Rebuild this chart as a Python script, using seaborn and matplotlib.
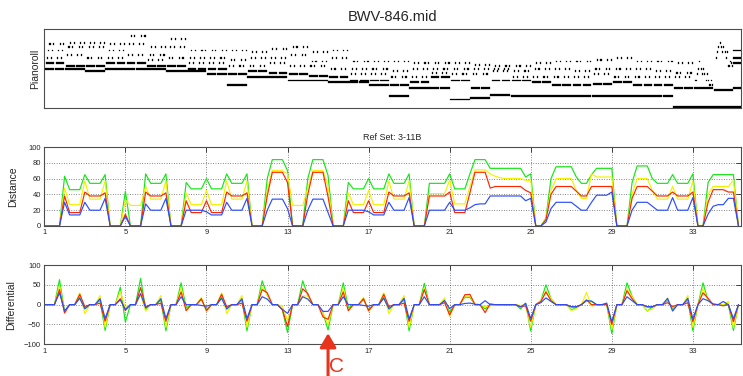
import numpy as np
import pandas as pd
import matplotlib
matplotlib.use("Agg")
import matplotlib.pyplot as plt
import seaborn as sns
from matplotlib.patches import Rectangle
from matplotlib.collections import PatchCollection

sns.set_style("white")
plt.rcParams["font.family"] = ["Liberation Sans", "DejaVu Sans"]

# ---------------- data ----------------
TITLE = "BWV-846.mid"
REF_SET = "Ref Set: 3-11B"
X_TICKS = [1, 5, 9, 13, 17, 21, 25, 29, 33]
STEP = 0.25  # sampling step (bars)

# Pianoroll (MIDI pitches), bars 1..32: bass, tenor, and 3-note arpeggio
BASS = [60, 60, 59, 60, 60, 60, 59, 59, 57, 50, 55, 55, 53, 53, 52, 52,
        50, 43, 48, 48, 41, 42, 44, 43, 43, 43, 43, 43, 43, 43, 43, 36]
TENOR = [64, 62, 62, 64, 64, 62, 62, 60, 60, 57, 59, 58, 57, 56, 55, 53,
         53, 50, 52, 55, 53, 48, 53, 53, 52, 50, 50, 51, 52, 50, 50, 48]
ARP_LOW = [67, 69, 67, 67, 69, 66, 67, 64, 64, 62, 62, 64, 62, 62, 60, 57,
           57, 55, 55, 58, 57, 57, 59, 55, 55, 55, 55, 57, 55, 55, 55, 55]
ARP_MID = [72, 74, 74, 72, 76, 69, 74, 67, 67, 66, 67, 67, 69, 65, 67, 60,
           60, 59, 60, 60, 60, 60, 60, 59, 60, 60, 59, 60, 60, 60, 59, 58]
ARP_TOP = [76, 77, 77, 76, 81, 74, 79, 72, 72, 72, 71, 73, 74, 71, 72, 65,
           65, 65, 64, 64, 64, 63, 62, 62, 64, 65, 65, 66, 67, 65, 65, 64]
# bars 33-34 (pedal + run) and final chord (bar 35)
END_BASS = [36, 36]
END_TENOR = [48, 47]
RUN_33 = [53, 57, 60, 65, 60, 57, 60, 57, 53, 57, 53, 50, 53, 50]
RUN_34 = [67, 71, 74, 77, 74, 71, 74, 71, 67, 71, 62, 65, 64, 62]
FINAL_CHORD = [36, 48, 64, 67, 72]

# Distance series (Ref Set 3-11B), sampled every quarter bar from bar 1
GREEN_DIST = [0, 0, 0, 0, 63, 46, 46, 46, 65, 54, 54, 54, 65, 0, 0, 0,
              44, 0, 0, 0, 66, 54, 54, 54, 66, 0, 0, 0, 55, 47, 47, 47,
              60, 47, 47, 47, 66, 54, 54, 54, 66, 0, 0, 0, 60, 84, 84, 84,
              70, 0, 0, 0, 60, 84, 84, 84, 64, 0, 0, 0, 55, 47, 47, 47,
              60, 47, 47, 47, 66, 54, 54, 54, 66, 0, 0, 0, 54, 54, 54, 54,
              66, 47, 47, 47, 66, 84, 84, 84, 73, 73, 73, 73, 73, 73, 73, 62,
              66, 0, 0, 10, 60, 75, 75, 75, 75, 62, 54, 54, 65, 73, 73, 73,
              73, 0, 0, 0, 55, 76, 76, 76, 60, 54, 54, 54, 65, 54, 54, 54,
              66, 0, 0, 55, 65, 65, 65, 65, 65, 0]
YELLOW_DIST = [0, 0, 0, 0, 48, 27, 27, 27, 57, 34, 34, 34, 57, 0, 0, 0,
               33, 26, 26, 26, 50, 34, 34, 34, 57, 0, 0, 0, 42, 27, 27, 27,
               45, 27, 27, 27, 57, 34, 34, 34, 57, 0, 0, 0, 45, 70, 70, 70,
               66, 26, 26, 26, 48, 70, 70, 70, 50, 0, 0, 0, 42, 27, 27, 27,
               45, 27, 27, 27, 57, 34, 34, 34, 57, 0, 0, 0, 41, 41, 41, 41,
               58, 28, 28, 28, 50, 71, 71, 71, 66, 63, 61, 60, 60, 60, 60, 58,
               57, 0, 0, 10, 45, 60, 60, 60, 60, 45, 35, 35, 66, 62, 62, 62,
               62, 0, 0, 0, 40, 60, 60, 60, 45, 34, 34, 34, 50, 34, 34, 34,
               57, 0, 0, 40, 50, 50, 50, 50, 58, 0]
RED_DIST = [0, 0, 0, 0, 38, 17, 17, 17, 43, 38, 38, 38, 42, 0, 0, 0,
            15, 0, 0, 0, 43, 38, 38, 38, 42, 0, 0, 0, 32, 17, 17, 17,
            32, 17, 17, 17, 43, 38, 38, 38, 42, 0, 0, 0, 38, 68, 68, 68,
            55, 0, 0, 0, 40, 68, 68, 68, 37, 0, 0, 0, 32, 17, 17, 17,
            32, 17, 17, 17, 43, 38, 38, 38, 42, 0, 0, 0, 38, 38, 38, 38,
            43, 17, 17, 17, 42, 68, 68, 68, 48, 50, 50, 50, 50, 50, 50, 45,
            42, 0, 0, 8, 40, 50, 50, 50, 50, 44, 38, 38, 50, 50, 50, 50,
            50, 0, 0, 0, 35, 50, 50, 50, 44, 38, 38, 38, 43, 38, 38, 38,
            43, 0, 0, 30, 46, 46, 46, 43, 43, 0]
BLUE_DIST = [0, 0, 0, 0, 30, 14, 14, 14, 30, 20, 20, 20, 35, 0, 0, 0,
             12, 0, 0, 0, 28, 20, 20, 20, 35, 0, 0, 0, 20, 20, 20, 20,
             18, 14, 14, 14, 30, 20, 20, 20, 35, 0, 0, 0, 20, 34, 34, 34,
             22, 0, 0, 0, 20, 34, 34, 34, 17, 0, 0, 0, 20, 20, 20, 20,
             18, 14, 14, 14, 30, 20, 20, 20, 36, 0, 0, 0, 20, 20, 20, 20,
             30, 20, 20, 20, 23, 27, 28, 28, 38, 38, 38, 38, 38, 38, 38, 32,
             35, 0, 0, 5, 22, 30, 30, 30, 30, 25, 20, 20, 30, 39, 39, 39,
             43, 0, 0, 0, 20, 30, 30, 30, 25, 20, 20, 20, 36, 20, 20, 20,
             36, 0, 0, 15, 25, 27, 27, 35, 35, 0]

# Differential series (change to the next sample)
GREEN_DIFF = [0, 0, 0, 63, -17, 0, 0, 19, -11, 0, 0, 11, -65, 0, 0, 44,
              -44, 0, 0, 66, -12, 0, 0, 12, -66, 0, 0, 55, -8, 0, 0, 13,
              -13, 0, 0, 19, -12, 0, 0, 12, -66, 0, 0, 60, 24, 0, 0, -14,
              -70, 0, 0, 60, 24, 0, 0, -20, -64, 0, 0, 55, -8, 0, 0, 13,
              -13, 0, 0, 19, -12, 0, 0, 12, -66, 0, 0, 54, 0, 0, 0, 12,
              -19, 0, 0, 19, 18, 0, 0, -11, 0, 0, 0, 0, 0, 0, -11, 4,
              -66, 0, 10, 50, 15, 0, 0, 0, -13, -8, 0, 11, 8, 0, 0, 0,
              -73, 0, 0, 55, 21, 0, 0, -16, -6, 0, 0, 11, -11, 0, 0, 12,
              -66, 0, 55, 10, 0, 0, 0, 0, -65, 0]
YELLOW_DIFF = [0, 0, 0, 48, -21, 0, 0, 30, -23, 0, 0, 23, -57, 0, 0, 33,
               -7, 0, 0, 24, -16, 0, 0, 23, -57, 0, 0, 42, -15, 0, 0, 18,
               -18, 0, 0, 30, -23, 0, 0, 23, -57, 0, 0, 45, 25, 0, 0, -4,
               -40, 0, 0, 22, 22, 0, 0, -20, -50, 0, 0, 42, -15, 0, 0, 18,
               -18, 0, 0, 30, -23, 0, 0, 23, -57, 0, 0, 41, 0, 0, 0, 17,
               -30, 0, 0, 22, 21, 0, 0, -5, -3, -2, -1, 0, 0, 0, -2, -1,
               -57, 0, 10, 35, 15, 0, 0, 0, -15, -10, 0, 31, -4, 0, 0, 0,
               -62, 0, 0, 40, 20, 0, 0, -15, -11, 0, 0, 16, -16, 0, 0, 23,
               -57, 0, 40, 10, 0, 0, 0, 8, -58, 0]
RED_DIFF = [0, 0, 0, 38, -21, 0, 0, 26, -5, 0, 0, 4, -42, 0, 0, 15,
            -15, 0, 0, 43, -5, 0, 0, 4, -42, 0, 0, 32, -15, 0, 0, 15,
            -15, 0, 0, 26, -5, 0, 0, 4, -42, 0, 0, 38, 30, 0, 0, -13,
            -55, 0, 0, 40, 28, 0, 0, -31, -37, 0, 0, 32, -15, 0, 0, 15,
            -15, 0, 0, 26, -5, 0, 0, 4, -42, 0, 0, 38, 0, 0, 0, 5,
            -26, 0, 0, 25, 26, 0, 0, -20, 2, 0, 0, 0, 0, 0, -5, -3,
            -42, 0, 8, 32, 10, 0, 0, 0, -6, -6, 0, 12, 0, 0, 0, 0,
            -50, 0, 0, 35, 15, 0, 0, -6, -6, 0, 0, 5, -5, 0, 0, 5,
            -43, 0, 30, 16, 0, 0, -3, 0, -43, 0]
BLUE_DIFF = [0, 0, 0, 30, -16, 0, 0, 16, -10, 0, 0, 15, -35, 0, 0, 12,
             -12, 0, 0, 28, -8, 0, 0, 15, -35, 0, 0, 20, 0, 0, 0, -2,
             -4, 0, 0, 16, -10, 0, 0, 15, -35, 0, 0, 20, 14, 0, 0, -12,
             -22, 0, 0, 20, 14, 0, 0, -17, -17, 0, 0, 20, 0, 0, 0, -2,
             -4, 0, 0, 16, -10, 0, 0, 16, -36, 0, 0, 20, 0, 0, 0, 10,
             -10, 0, 0, 3, 4, 1, 0, 10, 0, 0, 0, 0, 0, 0, -6, 3,
             -35, 0, 5, 17, 8, 0, 0, 0, -5, -5, 0, 10, 9, 0, 0, 4,
             -43, 0, 0, 20, 10, 0, 0, -5, -5, 0, 0, 16, -16, 0, 0, 16,
             -36, 0, 15, 10, 2, 0, 8, 0, -35, 0]

SERIES = ["g", "y", "r", "b"]
PALETTE = {"g": "#14e614", "y": "#f2f200", "r": "#ff2600", "b": "#2a4dff"}
ARROW_COLOR = "#e8341c"

# ---------------- figure ----------------
W, H = 743, 376
fig = plt.figure(figsize=(W / 100, H / 100), dpi=100)


def rect(l, t, r, b):
    return [l / W, 1 - b / H, (r - l) / W, (b - t) / H]


ax1 = fig.add_axes(rect(44.3, 29.3, 740.5, 108.3))
ax2 = fig.add_axes(rect(44.3, 147, 740.5, 226))
ax3 = fig.add_axes(rect(44.3, 265, 740.5, 344.3))
XMAX = 35.35

# ---- pianoroll ----
notes = []
for i in range(len(BASS)):
    bar = 1 + i
    arp = [ARP_LOW[i], ARP_MID[i], ARP_TOP[i]]
    for h in (0.0, 0.5):
        notes.append((bar + h, 0.5, BASS[i]))
        notes.append((bar + h + 1 / 16, 7 / 16, TENOR[i]))
        for k in range(6):
            notes.append((bar + h + (2 + k) / 16, 1 / 16, arp[k % 3]))
for j, run in enumerate([RUN_33, RUN_34]):
    bar = 33 + j
    notes.append((bar, 1.0, END_BASS[j]))
    notes.append((bar + 1 / 16, 15 / 16, END_TENOR[j]))
    for k, p in enumerate(run):
        notes.append((bar + (2 + k) / 16, 1 / 16, p))
for p in FINAL_CHORD:
    notes.append((35, 1.0, p))

patches = [Rectangle((on + 0.004, p - 0.6), d - 0.008, 1.2) for on, d, p in notes]
ax1.add_collection(PatchCollection(patches, facecolor="black",
                                   edgecolor="black", linewidth=0.2))
ax1.set_xlim(1, XMAX)
ax1.set_ylim(35.4, 85.4)
ax1.set_xticks([])
ax1.set_yticks([])
ax1.set_title(TITLE, fontsize=10.5, pad=6)
ax1.set_ylabel("Pianoroll", fontsize=7.5)
ax1.yaxis.set_label_coords(-0.006, 0.5)

# ---- distance / differential ----
n = len(GREEN_DIST)
t = 1 + STEP * np.arange(n)
dist_df = pd.DataFrame({
    "t": np.tile(t, 4),
    "v": np.concatenate([GREEN_DIST, YELLOW_DIST, RED_DIST, BLUE_DIST]),
    "s": np.repeat(SERIES, n),
})
diff_df = pd.DataFrame({
    "t": np.tile(t, 4),
    "v": np.concatenate([GREEN_DIFF, YELLOW_DIFF, RED_DIFF, BLUE_DIFF]),
    "s": np.repeat(SERIES, n),
})

sns.lineplot(data=dist_df, x="t", y="v", hue="s", hue_order=SERIES,
             palette=PALETTE, legend=False, lw=0.85, ax=ax2)
sns.lineplot(data=diff_df, x="t", y="v", hue="s", hue_order=SERIES,
             palette=PALETTE, legend=False, lw=0.85, ax=ax3)

ax2.set_ylim(0, 100)
ax2.set_yticks([0, 20, 40, 60, 80, 100])
ax3.set_ylim(-100, 100)
ax3.set_yticks([-100, -50, 0, 50, 100])
ax2.set_title(REF_SET, fontsize=6.5, pad=5)
ax2.set_ylabel("Distance", fontsize=7.5)
ax3.set_ylabel("Differential", fontsize=7.5)
ax2.yaxis.set_label_coords(-0.038, 0.5)
ax3.yaxis.set_label_coords(-0.040, 0.5)

for ax in (ax2, ax3):
    ax.set_xlim(1, XMAX)
    ax.set_xticks(X_TICKS)
    ax.set_xlabel("")
    ax.grid(True, linestyle=(0, (1, 2.2)), color="0.25", lw=0.55)
    ax.tick_params(direction="in", length=3.5, width=0.6, top=True,
                   right=True, labelsize=5.5, pad=2.5, colors="0.15")
    ax.set_axisbelow(True)

for ax in (ax1, ax2, ax3):
    for sp in ax.spines.values():
        sp.set_color("0.3")
        sp.set_linewidth(0.8)

# ---- red arrow with label C ----
ax3.annotate("", xy=(15.0, -72), xytext=(15.0, -182),
             arrowprops=dict(arrowstyle="-|>,head_length=0.6,head_width=0.35",
                             color=ARROW_COLOR, lw=2.2, mutation_scale=14,
                             shrinkA=0, shrinkB=0),
             annotation_clip=False)
fig.text(337 / W, 1 - 367 / H, "C", ha="center", va="center",
         fontsize=15, color=ARROW_COLOR)

fig.savefig("out.png", dpi=100)
